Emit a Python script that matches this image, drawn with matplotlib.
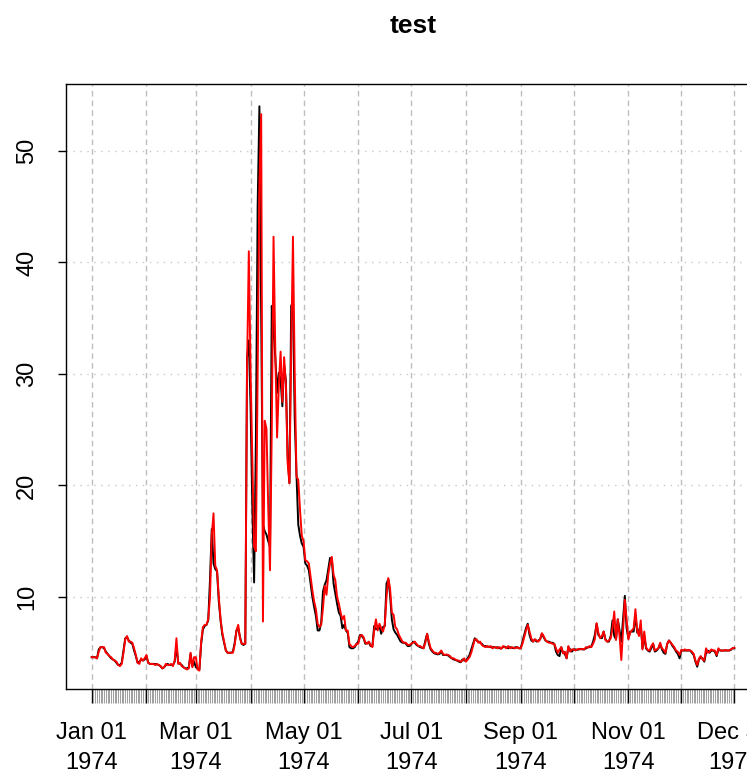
import numpy as np
import pandas as pd
import matplotlib
matplotlib.use("Agg")
import matplotlib.pyplot as plt
import matplotlib.dates as mdates

plt.rcParams['font.family'] = ['Liberation Sans', 'DejaVu Sans']

# daily values for 1974, one row block per month
black_months = [
    [4.6, 4.6, 4.6, 4.5, 5.3, 5.5, 5.5, 5.4, 5.1, 4.9, 4.7, 4.5, 4.4, 4.3, 4.1, 3.9, 3.9, 4.1, 5.2, 6.3,
     6.4, 6.1, 5.9, 5.8, 5.2, 4.7, 4.1, 4.2, 4.4, 4.3, 4.4],
    [4.7, 4.1, 4.0, 4.0, 4.0, 4.0, 3.95, 3.9, 3.8, 3.6, 3.7, 3.9, 4.0, 3.9, 3.9, 3.9, 4.2, 5.6, 4.1, 4.0,
     3.9, 3.7, 3.6, 3.6, 3.7, 4.9, 3.8, 4.2],
    [3.7, 3.6, 3.5, 5.8, 7.1, 7.4, 7.5, 7.9, 11.5, 16.1, 13.0, 12.5, 12.3, 9.6, 7.9, 6.6, 5.9, 5.2, 5.0, 5.0,
     5.0, 5.1, 5.9, 7.0, 7.2, 6.4, 5.8, 5.7, 5.8, 31.5, 33.0],
    [27, 18, 11.3, 24, 45, 54, 35, 16.5, 15.9, 15.6, 15.0, 14.5, 36.1, 34, 31.5, 28.3, 30.1, 29.5, 27.1, 30.8,
     29.4, 22.6, 20.2, 36.1, 36.5, 26, 21, 16.5, 15.5, 14.8],
    [14.5, 13.0, 12.8, 12.4, 11.2, 10.0, 9.1, 8.3, 7.0, 7.0, 7.7, 10.5, 11.1, 11.5, 12.5, 13.5, 13.4, 11.2, 10.3, 9.4,
     8.6, 8.3, 7.2, 7.5, 7.0, 6.8, 5.5, 5.4, 5.4, 5.5, 5.8],
    [6.0, 6.6, 6.5, 6.3, 5.8, 5.9, 5.9, 5.6, 5.6, 7.4, 7.1, 7.2, 7.4, 6.7, 7.3, 7.4, 11.2, 11.6, 10.2, 8.0,
     7.1, 6.8, 6.6, 6.3, 6.0, 5.9, 5.9, 5.8, 5.6, 5.6],
    [5.75, 6.0, 5.9, 5.7, 5.6, 5.5, 5.45, 5.4, 6.1, 6.7, 5.8, 5.3, 5.1, 4.95, 4.9, 4.85, 4.9, 5.1, 4.8, 4.8,
     4.8, 4.75, 4.6, 4.5, 4.4, 4.35, 4.3, 4.2, 4.15, 4.4, 4.3],
    [4.3, 4.5, 4.8, 5.3, 5.8, 6.3, 6.1, 6.0, 5.9, 5.8, 5.6, 5.6, 5.55, 5.55, 5.5, 5.5, 5.5, 5.45, 5.5, 5.4,
     5.4, 5.5, 5.55, 5.45, 5.4, 5.5, 5.45, 5.4, 5.5, 5.5, 5.4],
    [5.4, 6.0, 6.6, 7.2, 7.6, 6.6, 6.1, 6.0, 6.2, 6.0, 6.1, 6.2, 6.7, 6.4, 6.1, 6.0, 6.0, 5.9, 5.9, 5.8,
     5.1, 4.8, 4.7, 5.5, 5.0, 4.9, 4.5, 5.5, 5.3, 5.1],
    [5.3, 5.3, 5.25, 5.3, 5.35, 5.3, 5.3, 5.4, 5.5, 5.5, 5.55, 6.0, 6.6, 7.6, 6.6, 6.4, 6.3, 6.9, 6.2, 6.0,
     6.0, 6.5, 7.9, 6.5, 6.2, 8.0, 7.0, 6.0, 8.0, 10.1, 7.2],
    [6.3, 6.9, 6.9, 6.9, 8.4, 6.8, 7.0, 7.5, 5.4, 6.5, 5.4, 5.2, 5.1, 5.4, 5.8, 5.1, 5.2, 5.4, 5.8, 5.3,
     5.0, 4.9, 5.8, 6.1, 5.9, 5.6, 5.4, 5.1, 4.9, 4.5],
    [5.2, 5.2, 5.2, 5.2, 5.2, 5.2, 5.0, 4.8, 4.2, 3.75, 4.4, 4.6, 4.5, 4.2, 5.0, 5.2, 5.0, 5.2, 5.2, 5.1,
     4.7, 5.3, 5.2, 5.2, 5.2, 5.2, 5.2, 5.2, 5.25, 5.4, 5.4],
]

red_months = [
    [4.6, 4.6, 4.6, 4.5, 5.1, 5.5, 5.5, 5.5, 5.0, 4.9, 4.7, 4.6, 4.4, 4.3, 4.2, 3.9, 3.8, 4.0, 5.0, 6.2,
     6.5, 6.0, 6.0, 5.9, 5.4, 4.8, 4.1, 4.0, 4.5, 4.3, 4.5],
    [4.8, 4.1, 4.0, 4.0, 4.0, 3.9, 4.0, 3.9, 3.8, 3.6, 3.7, 4.0, 3.9, 3.9, 4.0, 3.8, 4.3, 6.3, 4.0, 4.1,
     3.8, 3.7, 3.6, 3.5, 3.6, 5.0, 3.7, 4.6],
    [4.6, 3.5, 3.4, 6.0, 7.3, 7.5, 7.5, 8.0, 10.0, 15.5, 17.5, 12.8, 12.4, 10.0, 8.0, 6.8, 6.0, 5.2, 5.0, 5.0,
     5.0, 5.0, 5.7, 7.0, 7.5, 6.3, 5.8, 5.8, 5.8, 30.5, 41.0],
    [30, 22, 14.5, 14.1, 30, 47, 53.3, 7.8, 25.8, 25.1, 18, 12.4, 25, 42.3, 32, 24.3, 29, 32.0, 27.5, 31.5,
     29, 22, 20.2, 32, 42.3, 30, 20.8, 20.5, 17.8, 15.5],
    [15.0, 13.3, 13.2, 13.0, 11.8, 10.6, 9.6, 8.9, 7.6, 7.3, 7.5, 9.0, 11.0, 10.2, 12.0, 13.0, 13.6, 12.0, 11.5, 10.0,
     9.4, 8.6, 8.0, 8.3, 7.0, 7.0, 5.8, 5.6, 5.5, 5.6, 5.8],
    [5.8, 6.5, 6.6, 6.4, 5.9, 5.8, 6.0, 5.7, 5.5, 7.0, 8.0, 7.0, 7.6, 7.2, 6.9, 7.5, 10.0, 11.7, 10.8, 8.6,
     8.4, 7.3, 7.1, 6.6, 6.3, 6.0, 5.9, 5.9, 5.7, 5.7],
    [5.8, 5.9, 6.0, 5.8, 5.6, 5.6, 5.5, 5.4, 5.9, 6.7, 6.0, 5.4, 5.2, 5.0, 5.0, 4.9, 5.0, 5.2, 4.9, 4.8,
     4.85, 4.8, 4.7, 4.5, 4.5, 4.4, 4.3, 4.3, 4.2, 4.3, 4.5],
    [4.2, 4.4, 4.6, 5.0, 5.6, 6.2, 6.2, 5.9, 6.0, 5.7, 5.6, 5.5, 5.6, 5.5, 5.6, 5.4, 5.5, 5.5, 5.4, 5.5,
     5.35, 5.6, 5.5, 5.4, 5.6, 5.4, 5.5, 5.45, 5.4, 5.5, 5.4],
    [5.4, 5.8, 6.4, 7.0, 7.5, 6.9, 6.3, 6.0, 6.2, 6.1, 6.0, 6.2, 6.75, 6.5, 6.15, 6.0, 5.9, 5.9, 5.8, 5.8,
     5.4, 5.0, 5.3, 5.5, 4.95, 5.1, 4.5, 5.6, 5.1, 5.3],
    [5.3, 5.2, 5.3, 5.35, 5.3, 5.35, 5.3, 5.5, 5.45, 5.6, 5.5, 5.8, 6.2, 7.65, 6.8, 6.3, 6.5, 6.9, 6.15, 6.0,
     6.1, 6.3, 7.2, 8.7, 6.15, 8.0, 6.5, 4.35, 7.0, 9.75, 8.0],
    [6.2, 6.8, 7.0, 7.2, 8.9, 7.0, 6.5, 7.9, 5.3, 6.9, 5.5, 5.25, 5.2, 5.6, 5.85, 5.2, 5.3, 5.4, 5.9, 5.4,
     5.25, 5.0, 5.8, 6.1, 5.9, 5.7, 5.5, 5.2, 5.1, 4.8],
    [5.25, 5.2, 5.3, 5.2, 5.25, 5.2, 5.1, 4.9, 4.3, 3.9, 4.5, 4.7, 4.4, 4.3, 5.4, 5.0, 5.1, 5.3, 5.2, 5.2,
     4.8, 5.4, 5.2, 5.2, 5.2, 5.25, 5.2, 5.2, 5.3, 5.4, 5.45],
]

month_lengths = [31, 28, 31, 30, 31, 30, 31, 31, 30, 31, 30, 31]
for m, n in enumerate(month_lengths):
    assert len(black_months[m]) == n, ("black", m, len(black_months[m]))
    assert len(red_months[m]) == n, ("red", m, len(red_months[m]))

black = np.concatenate([np.array(v, float) for v in black_months])
red = np.concatenate([np.array(v, float) for v in red_months])
dates = pd.date_range("1974-01-01", "1974-12-31", freq="D")

major_dates = list(pd.date_range("1974-01-01", "1974-12-01", freq="MS")) + [pd.Timestamp("1974-12-31")]
major_labels = [d.strftime("%b %d\n%Y") if i % 2 == 0 or i == 12 else "" for i, d in enumerate(major_dates)]
y_ticks = [10, 20, 30, 40, 50]

W, H = 747, 771
fig = plt.figure(figsize=(W / 100, H / 100), dpi=100)
ax = fig.add_axes([66 / W, (H - 689) / H, (760 - 66) / W, (689 - 84) / H])

ax.plot(dates, black, color="black", lw=1.4)
ax.plot(dates, red, color="red", lw=1.4)

x0 = mdates.date2num(pd.Timestamp("1974-01-01"))
x1 = mdates.date2num(pd.Timestamp("1974-12-31"))
pad = (x1 - x0) * 0.04
ax.set_xlim(x0 - pad, x1 + pad)
ax.set_ylim(1.75, 56.0)

# grid like R's xts plot
for d in major_dates:
    ax.axvline(d, color="#bdbdbd", lw=1.0, ls=(0, (4, 3)), zorder=0)
for y in y_ticks:
    ax.axhline(y, color="#c8c8c8", lw=1.0, ls=(0, (1, 4)), zorder=0)

ax.set_xticks(major_dates)
ax.set_xticklabels(major_labels, fontsize=17, linespacing=1.45)
ax.set_xticks(dates, minor=True)
ax.tick_params(axis="x", which="major", length=10, width=1.0, color="black", pad=14)
ax.tick_params(axis="x", which="minor", length=10, width=0.75, color="#a0a0a0")

ax.set_yticks(y_ticks)
ax.set_yticklabels([str(v) for v in y_ticks], fontsize=17, rotation=90, va="center")
ax.tick_params(axis="y", length=6, width=1.0, pad=14)

for s in ax.spines.values():
    s.set_linewidth(1.0)

fig.text(413 / W, 1 - 26 / H, "test", ha="center", va="center", fontsize=19, fontweight="bold")

fig.savefig("out.png", dpi=100)
